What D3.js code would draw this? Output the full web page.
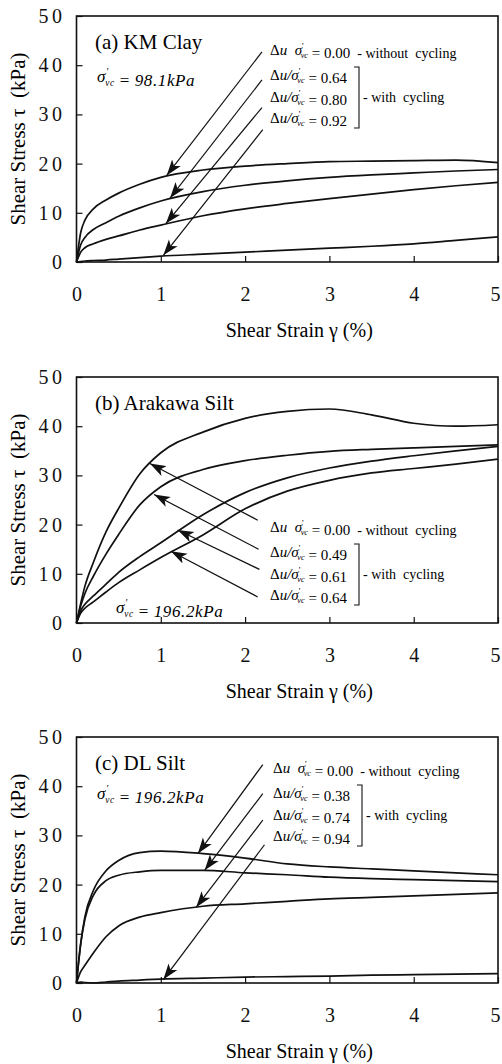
<!DOCTYPE html>
<html>
<head>
<meta charset="utf-8">
<script src="https://cdn.jsdelivr.net/npm/d3@7"></script>
<style>
  body { margin: 0; background: #fff; }
  svg { display: block; }
</style>
</head>
<body>
<script>
// shear strain (%) at which every curve was read
const strain = [0, 0.05, 0.1, 0.2, 0.35, 0.5, 0.75, 1, 1.5, 2, 2.5, 3, 3.5, 4, 4.5, 5];

// (a) KM Clay, shear stress (kPa)
const kmClay000 = [0, 6.0, 8.5, 10.8, 12.6, 14.0, 15.8, 17.2, 18.7, 19.5, 20.0, 20.4, 20.5, 20.6, 20.7, 20.2];
const kmClay064 = [0, 3.5, 5.0, 6.6, 8.0, 9.3, 11.0, 12.4, 14.3, 15.6, 16.5, 17.2, 17.7, 18.1, 18.5, 18.8];
const kmClay080 = [0, 2.0, 2.9, 3.7, 4.6, 5.3, 6.5, 7.5, 9.4, 10.8, 11.9, 12.9, 13.8, 14.7, 15.5, 16.2];
const kmClay092 = [0, 0.1, 0.2, 0.3, 0.4, 0.6, 0.9, 1.2, 1.6, 2.0, 2.4, 2.8, 3.2, 3.7, 4.4, 5.1];

// (b) Arakawa Silt
const arakawa000 = [0, 4.0, 7.5, 12.3, 18.5, 23.3, 30.3, 34.6, 38.8, 41.6, 43.0, 43.5, 42.3, 40.6, 40.0, 40.3];
const arakawa049 = [0, 3.5, 6.0, 9.5, 14.0, 18.0, 24.0, 27.7, 31.2, 33.0, 34.1, 34.9, 35.3, 35.6, 35.9, 36.2];
const arakawa061 = [0, 2.5, 3.8, 5.5, 7.9, 10.3, 13.5, 16.3, 22.0, 26.5, 29.5, 31.5, 32.9, 34.0, 35.0, 35.9];
const arakawa064 = [0, 2.0, 3.0, 4.3, 6.3, 8.2, 10.8, 13.3, 17.9, 23.2, 26.8, 29.0, 30.5, 31.4, 32.3, 33.3];

// (c) DL Silt
const dlSilt000 = [0, 8.0, 13.5, 18.8, 22.8, 24.9, 26.5, 26.8, 26.3, 25.4, 24.2, 23.6, 23.2, 22.8, 22.4, 22.0];
const dlSilt038 = [0, 8.0, 13.0, 17.8, 20.8, 21.9, 22.6, 22.9, 22.9, 22.4, 22.0, 21.5, 21.2, 21.0, 20.8, 20.6];
const dlSilt074 = [0, 2.3, 3.6, 6.1, 9.4, 11.6, 13.4, 14.3, 15.6, 16.1, 16.6, 17.1, 17.4, 17.7, 18.0, 18.3];
const dlSilt094 = [0, 0.2, 0.1, 0.0, 0.2, 0.4, 0.6, 0.8, 1.0, 1.2, 1.3, 1.4, 1.6, 1.7, 1.8, 1.9];

// pore pressure ratios written next to the arrows
const kmRatios = ["0.00", "0.64", "0.80", "0.92"];
const arakawaRatios = ["0.00", "0.49", "0.61", "0.64"];
const dlRatios = ["0.00", "0.38", "0.74", "0.94"];

// arrows, in data units: where the line leaves the label and where it points
const kmArrowFrom = [[2.2, 42.7], [2.2, 37.0], [2.2, 31.4], [2.21, 26.9]];
const kmArrowTo = [[1.07, 17.6], [1.11, 13.0], [1.06, 7.8], [1.03, 1.35]];
const arakawaArrowFrom = [[2.15, 20.9], [2.16, 15.0], [2.17, 10.9], [2.15, 5.3]];
const arakawaArrowTo = [[0.87, 32.4], [0.92, 26.1], [1.2, 18.9], [1.12, 14.6]];
const dlArrowFrom = [[2.21, 44.4], [2.21, 38.5], [2.21, 33.1], [2.23, 28.1]];
const dlArrowTo = [[1.44, 26.3], [1.52, 22.9], [1.42, 15.4], [1.03, 0.7]];

const xTicks = [0, 1, 2, 3, 4, 5];
const yTicks = [0, 10, 20, 30, 40, 50];

const panels = [
  { name: "(a) KM Clay", stress: "98.1", curves: [kmClay000, kmClay064, kmClay080, kmClay092],
    ratios: kmRatios, from: kmArrowFrom, to: kmArrowTo,
    top: 16, rowY: 34, textX: 270, sigma: [97, 60] },
  { name: "(b) Arakawa Silt", stress: "196.2", curves: [arakawa000, arakawa049, arakawa061, arakawa064],
    ratios: arakawaRatios, from: arakawaArrowFrom, to: arakawaArrowTo,
    top: 377, rowY: 150, textX: 270, sigma: [116, 230] },
  { name: "(c) DL Silt", stress: "196.2", curves: [dlSilt000, dlSilt038, dlSilt074, dlSilt094],
    ratios: dlRatios, from: dlArrowFrom, to: dlArrowTo,
    top: 737, rowY: 31, textX: 273, sigma: [97, 56] }
];

const width = 502, height = 1064;
const left = 76.5, right = 498, plotH = 246;
const rowOffsets = [0, 25, 47, 68];
const serif = "Liberation Serif, Times New Roman, DejaVu Serif, serif";

const svg = d3.select("body").append("svg")
  .attr("width", width)
  .attr("height", height)
  .attr("font-family", serif);

svg.append("defs").append("marker")
  .attr("id", "arrow")
  .attr("viewBox", "0 -6 16 12")
  .attr("refX", 16).attr("refY", 0)
  .attr("markerWidth", 16).attr("markerHeight", 12)
  .attr("markerUnits", "userSpaceOnUse")
  .attr("orient", "auto")
  .append("path")
  .attr("d", "M0,-5.5L16,0L0,5.5L4,0Z")
  .attr("fill", "#111");

const x = d3.scaleLinear().domain([0, 5]).range([left, right]);

// sigma'vc with the prime above and "vc" below
const addSigma = (t, size) => {
  t.append("tspan").attr("font-style", "italic").text("σ");
  t.append("tspan").attr("font-size", size * 0.6).attr("dy", -size * 0.42).text("'");
  t.append("tspan").attr("font-size", size * 0.55).attr("font-style", "italic")
    .attr("dx", -size * 0.2).attr("dy", size * 0.64).text("vc");
  t.append("tspan").attr("dy", -size * 0.22).text("");
};

panels.forEach(p => {
  const y = d3.scaleLinear().domain([0, 50]).range([p.top + plotH, p.top]);
  const g = svg.append("g");

  // axes with inward ticks
  const xAxis = g.append("g")
    .attr("transform", `translate(0,${p.top + plotH})`)
    .call(d3.axisBottom(x).tickValues(xTicks).tickFormat(d3.format("d"))
      .tickSizeInner(-6).tickSizeOuter(0).tickPadding(25));
  const yAxis = g.append("g")
    .attr("transform", `translate(${left},0)`)
    .call(d3.axisLeft(y).tickValues(yTicks).tickFormat(d3.format("d"))
      .tickSizeInner(-6).tickSizeOuter(0).tickPadding(11));
  [xAxis, yAxis].forEach(a => {
    a.attr("font-family", serif).attr("font-size", 20);
    a.select(".domain").remove();
    a.selectAll("line").attr("stroke", "#111").attr("stroke-width", 1.2);
    a.selectAll("text").attr("fill", "#111");
  });
  yAxis.selectAll("text").attr("letter-spacing", 3.5);
  // last strain label sits on the page edge
  xAxis.selectAll(".tick text").filter(d => d === 5).attr("dx", -3);

  g.append("rect")
    .attr("x", left).attr("y", p.top)
    .attr("width", right - left).attr("height", plotH)
    .attr("fill", "none").attr("stroke", "#111").attr("stroke-width", 1.6);

  // axis titles
  g.append("text")
    .attr("x", (left + right) / 2 + 12).attr("y", p.top + plotH + 75)
    .attr("text-anchor", "middle").attr("font-size", 20)
    .text("Shear Strain γ (%)");
  g.append("text")
    .attr("transform", `translate(25,${p.top + plotH / 2}) rotate(-90)`)
    .attr("text-anchor", "middle").attr("font-size", 21)
    .attr("xml:space", "preserve")
    .text("Shear Stress τ  (kPa)");

  // curves
  const line = d3.line()
    .x((d, i) => x(strain[i]))
    .y(d => y(d))
    .curve(d3.curveMonotoneX);
  g.selectAll(".curve")
    .data(p.curves)
    .enter().append("path")
    .attr("class", "curve")
    .attr("d", line)
    .attr("fill", "none")
    .attr("stroke", "#111")
    .attr("stroke-width", 1.7);

  // arrows from labels to curves
  g.selectAll(".arrow")
    .data(p.from)
    .enter().append("line")
    .attr("class", "arrow")
    .attr("x1", d => x(d[0])).attr("y1", d => y(d[1]))
    .attr("x2", (d, i) => x(p.to[i][0])).attr("y2", (d, i) => y(p.to[i][1]))
    .attr("stroke", "#111").attr("stroke-width", 1.2)
    .attr("marker-end", "url(#arrow)");

  // panel name
  g.append("text")
    .attr("x", 95).attr("y", p.top + 33)
    .attr("font-size", 21)
    .text(p.name);

  // confining stress
  const s = g.append("text")
    .attr("x", p.sigma[0]).attr("y", p.top + p.sigma[1] + 6)
    .attr("font-size", 17).attr("font-style", "italic")
    .attr("letter-spacing", 0.6);
  addSigma(s, 17);
  s.append("tspan").attr("font-style", "normal").text(" = ");
  s.append("tspan").text(p.stress + "kPa");

  // ratio labels
  p.ratios.forEach((r, i) => {
    const t = g.append("text")
      .attr("x", p.textX).attr("y", p.top + p.rowY + rowOffsets[i] + 5)
      .attr("font-size", 15)
      .attr("xml:space", "preserve");
    t.append("tspan").text("Δ");
    t.append("tspan").attr("font-style", "italic").text(i === 0 ? "u  " : "u/");
    addSigma(t, 15);
    t.append("tspan").text(" = " + r);
    if (i === 0) t.append("tspan").attr("font-size", 14).text("  - without  cycling");
  });

  // bracket for the cycled tests
  const bx = p.textX + 89;
  const b0 = p.top + p.rowY + rowOffsets[1] - 8;
  const b1 = p.top + p.rowY + rowOffsets[3] + 10;
  g.append("path")
    .attr("d", `M${bx - 5},${b0}H${bx}V${b1}H${bx - 5}`)
    .attr("fill", "none").attr("stroke", "#111").attr("stroke-width", 1.1);
  g.append("text")
    .attr("x", bx + 4).attr("y", p.top + p.rowY + rowOffsets[2] + 5)
    .attr("font-size", 14)
    .attr("xml:space", "preserve")
    .text("- with  cycling");
});
</script>
</body>
</html>
